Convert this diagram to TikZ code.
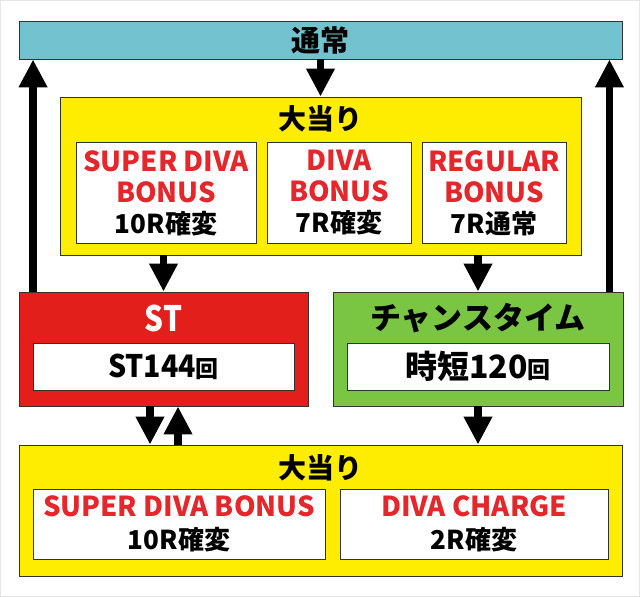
\documentclass[tikz,border=0pt]{standalone}
\usepackage{fontspec}
\setmainfont{Noto Sans CJK JP}[BoldFont={* Black}]
\usetikzlibrary{arrows.meta}
\definecolor{tsujoblue}{HTML}{72C3CF}
\definecolor{oayellow}{HTML}{FFED00}
\definecolor{stred}{HTML}{E21F1A}
\definecolor{ctgreen}{HTML}{7AC643}
\definecolor{bonusred}{HTML}{E5262B}
\definecolor{boxline}{HTML}{333333}
\definecolor{framegray}{HTML}{E6E6E6}
\newcommand{\kai}{{\fontsize{23}{23}\selectfont 回}}
\newcommand{\rnd}[1]{{\color{black}\fontsize{26}{26}\selectfont #1}}

\begin{document}
\begin{tikzpicture}[x=1pt, y=-1pt,
    box/.style={draw=boxline, line width=0.9pt, inner sep=0pt},
    txt/.style={font=\bfseries\fontsize{#1}{#1}\selectfont},
    bonus/.style={box, fill=white, align=center, text=bonusred, font=\bfseries\fontsize{27.5}{#1}\selectfont},
    arr/.style={line width=7.5pt, -{Triangle[length=28pt,width=27pt]}}]

    \useasboundingbox (0,0) rectangle (640,597);
    \draw[framegray, line width=1.5pt] (0,0) rectangle (640,597);

    \node[box, fill=tsujoblue, minimum width=603pt, minimum height=38pt, txt=29] (tsujo) at (320.5,40) {通常};

    \node[box, fill=oayellow, minimum width=521pt, minimum height=158pt] (oa1) at (320.5,176) {};
    \node[txt=28] (oa1title) at (320.5,119) {大当り};
    \node[bonus=31, minimum width=180pt, minimum height=101pt] (sdb) at (166,193) {SUPER DIVA\\BONUS\\\rnd{10R確変}};
    \node[bonus=31, minimum width=144pt, minimum height=101pt] (db) at (339,193) {DIVA\\BONUS\\\rnd{7R確変}};
    \node[bonus=31, minimum width=144pt, minimum height=101pt] (rb) at (494,193) {REGULAR\\BONUS\\\rnd{7R通常}};

    \node[box, fill=stred, minimum width=289pt, minimum height=114pt] (st) at (163.5,349) {};
    \node[text=white, txt=35] (sttitle) at (163.5,318) {\scalebox{0.85}[1]{ST}};
    \node[box, fill=white, minimum width=261pt, minimum height=47pt, txt=31] (stcount) at (163.5,366.5) {\scalebox{0.92}[1]{ST144}\kai};

    \node[box, fill=ctgreen, minimum width=290pt, minimum height=114pt] (ct) at (478,349) {};
    \node[txt=31] (cttitle) at (478,318) {チャンスタイム};
    \node[box, fill=white, minimum width=262pt, minimum height=47pt, txt=32] (ctcount) at (478,366.5) {時短120\kai};

    \node[box, fill=oayellow, minimum width=603pt, minimum height=131pt] (oa2) at (320.5,510.5) {};
    \node[txt=28] (oa2title) at (320.5,468) {大当り};
    \node[bonus=33, minimum width=292pt, minimum height=70pt] (sdb2) at (179,524) {SUPER DIVA BONUS\\\rnd{10R確変}};
    \node[bonus=33, minimum width=268pt, minimum height=70pt] (dc) at (474,524) {DIVA CHARGE\\\rnd{2R確変}};

    \draw[arr] (tsujo.south) -- (oa1.north);
    \draw[arr] ([xshift=14.5pt]st.north west) -- ([xshift=14.5pt]tsujo.south west);
    \draw[arr] ([xshift=-14pt]ct.north east) -- ([xshift=-13pt]tsujo.south east);
    \draw[arr] (oa1.south -| st.north) -- (st.north);
    \draw[arr] (oa1.south -| ct.north) -- (ct.north);
    \draw[arr] ([xshift=-13.5pt]st.south) -- ([xshift=-13.5pt]st.south |- oa2.north);
    \draw[arr] ([xshift=14.5pt]st.south |- oa2.north) -- ([xshift=14.5pt]st.south);
    \draw[arr] (ct.south) -- (ct.south |- oa2.north);

\end{tikzpicture}
\end{document}
